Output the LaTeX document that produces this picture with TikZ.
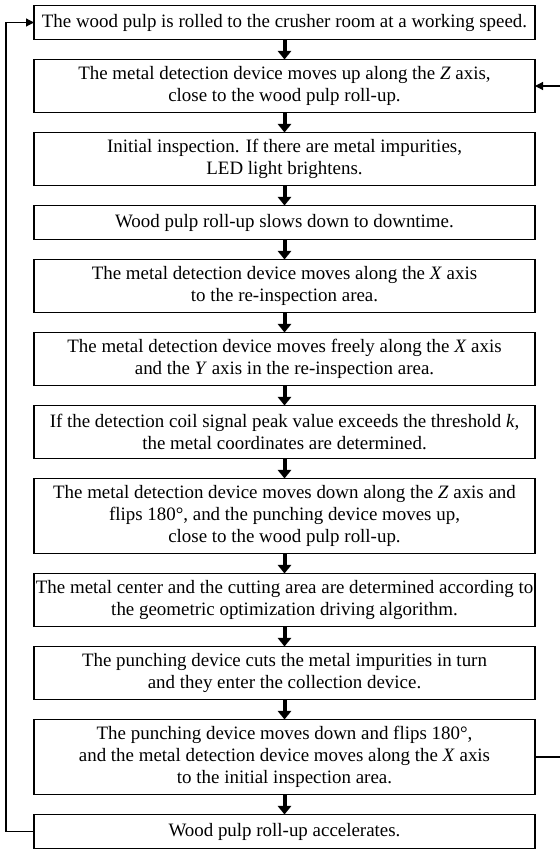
\documentclass[tikz,border=0pt]{standalone}
\usepackage{fontspec}
\setmainfont{Liberation Serif}
\usetikzlibrary{arrows.meta,positioning}

\begin{document}
\begin{tikzpicture}[x=0.75pt,y=-0.75pt,node distance=15pt,every node/.style={font=\fontsize{14.2}{16.6}\selectfont,align=center},box/.style={draw,line width=1.1pt,outer sep=0pt,minimum width=375.75pt,inner xsep=1pt,inner ysep=0pt},one/.style={box,minimum height=25.5pt},two/.style={box,minimum height=39.75pt},three/.style={box,minimum height=56.25pt},arrow/.style={-{Triangle[width=10pt,length=6.5pt]},line width=3pt},back/.style={-{Triangle[width=6pt,length=6pt]},line width=0.9pt}]
\useasboundingbox (0,0) rectangle (560,849);
\node[one] (roll) at (284.5,22.5) {The wood pulp is rolled to the crusher room at a working speed.};
\node[two,below=of roll] (zup) {The metal detection device moves up along the \textit{Z} axis,\\close to the wood pulp roll-up.};
\node[two,below=of zup] (init) {Initial inspection. If there are metal impurities,\\LED light brightens.};
\node[one,below=of init] (slow) {Wood pulp roll-up slows down to downtime.};
\node[two,below=of slow] (xmov) {The metal detection device moves along the \textit{X} axis\\to the re-inspection area.};
\node[two,below=of xmov] (free) {The metal detection device moves freely along the \textit{X} axis\\and the \textit{Y} axis in the re-inspection area.};
\node[two,below=of free] (peak) {If the detection coil signal peak value exceeds the threshold \textit{k},\\the metal coordinates are determined.};
\node[three,below=of peak] (flip) {The metal detection device moves down along the \textit{Z} axis and\\flips 180°, and the punching device moves up,\\close to the wood pulp roll-up.};
\node[two,below=of flip] (geo) {The metal center and the cutting area are determined according to\\the geometric optimization driving algorithm.};
\node[two,below=of geo] (cut) {The punching device cuts the metal impurities in turn\\and they enter the collection device.};
\node[three,below=of cut] (ret) {The punching device moves down and flips 180°,\\and the metal detection device moves along the \textit{X} axis\\to the initial inspection area.};
\node[one,below=of ret] (acc) {Wood pulp roll-up accelerates.};
\draw[arrow] (roll)--(zup); \draw[arrow] (zup)--(init); \draw[arrow] (init)--(slow);
\draw[arrow] (slow)--(xmov); \draw[arrow] (xmov)--(free); \draw[arrow] (free)--(peak);
\draw[arrow] (peak)--(flip); \draw[arrow] (flip)--(geo); \draw[arrow] (geo)--(cut);
\draw[arrow] (cut)--(ret); \draw[arrow] (ret)--(acc);
\draw[back] (acc.west) -- ++(-28,0) |- (roll.west);
\draw[back] (ret.east) -- ++(35,0) |- (zup.east);
\end{tikzpicture}
\end{document}
